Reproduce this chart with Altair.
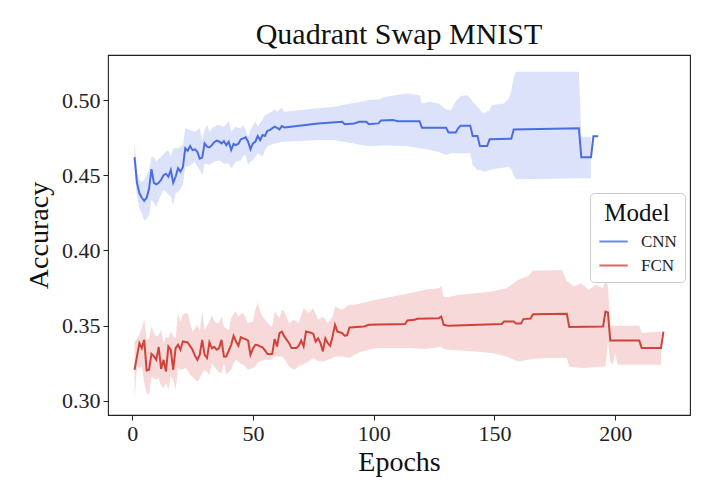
import altair as alt
import pandas as pd

# ---- CNN mean accuracy (epoch, value) ----
cnn_epoch = [1,2,3,4,5,6,7,8,9,10,11,12,13,14,15,16,17,18,19,20,21,22,23,24,25,26,27,28,29,30,
             31,32,33,34,35,36,37,38,39,40,41,42,43,44,45,46,47,48,49,50,51,52,53,54,55,56,57,58,59,60,
             61,62,63,64,77,87,88,92,94,97,98,102,103,108,110,119,120,130,131,134,135,136,140,141,143,
             144,147,148,157,158,185,186,190,191,193]
cnn_mean = [0.462,0.445,0.438,0.435,0.433,0.435,0.441,0.454,0.445,0.444,0.445,0.447,0.450,0.451,0.449,
            0.4535,0.445,0.449,0.4546,0.4524,0.4553,0.468,0.4663,0.4694,0.4667,0.4672,0.4656,0.461,0.4617,0.4712,
            0.469,0.4685,0.470,0.472,0.473,0.4725,0.4712,0.4727,0.470,0.4723,0.4668,0.4708,0.470,0.471,0.4739,
            0.4745,0.4752,0.4723,0.4672,0.4712,0.4723,0.4761,0.4734,0.4768,0.4761,0.4796,0.480,0.4812,0.4823,0.4815,
            0.4805,0.4827,0.4818,0.482,0.4845,0.4856,0.4840,0.4845,0.4856,0.4856,0.4840,0.4845,0.4865,0.4867,0.486,
            0.486,0.4816,0.4816,0.4785,0.4785,0.4812,0.4830,0.4830,0.4761,0.4761,0.4694,0.4694,0.4739,0.4743,0.4805,
            0.4812,0.4619,0.4619,0.4759,0.4759]

# ---- CNN 95% band (epoch, low, high) ----
cnn_band_epoch = [1,2,3,4,5,6,7,8,9,10,11,12,13,14,15,16,17,18,19,20,21,22,23,24,25,26,27,28,29,30,
                  31,32,33,34,35,36,37,38,39,40,41,42,43,44,45,46,47,48,49,50,51,52,53,54,55,56,57,59,60,62,
                  63,70,77,84,87,91,95,98,102,105,109,114,119,120,123,127,130,132,134,136,139,140,141,143,145,
                  146,148,149,154,156,157,158,159,185,186,190]
cnn_low = [0.450,0.436,0.428,0.4247,0.4198,0.421,0.4235,0.4336,0.4314,0.4291,0.4336,0.437,0.4402,0.439,0.437,
           0.4358,0.4302,0.438,0.4391,0.441,0.4435,0.4557,0.4557,0.4565,0.458,0.459,0.456,0.4535,0.4502,0.4579,
           0.4575,0.4568,0.458,0.459,0.4595,0.460,0.459,0.4579,0.4579,0.4579,0.4546,0.457,0.459,0.4595,0.460,
           0.463,0.4635,0.4568,0.459,0.460,0.4623,0.4646,0.4635,0.4623,0.4668,0.469,0.470,0.4712,0.4715,0.4723,
           0.4723,0.4728,0.4734,0.4734,0.4723,0.4715,0.470,0.4694,0.4697,0.470,0.4697,0.4694,0.468,0.4679,0.467,
           0.4655,0.4635,0.4646,0.4646,0.4646,0.4646,0.4646,0.4568,0.4535,0.4530,0.4524,0.4535,0.4540,0.4552,0.4557,
           0.4540,0.4500,0.4473,0.448,0.448,0.448]
cnn_high = [0.4734,0.452,0.447,0.4457,0.447,0.450,0.4535,0.462,0.4625,0.459,0.461,0.4623,0.464,0.4657,0.4668,
            0.4623,0.4679,0.4679,0.4679,0.469,0.470,0.4812,0.4806,0.480,0.4795,0.479,0.480,0.4812,0.4734,0.480,
            0.4834,0.479,0.481,0.4823,0.483,0.4834,0.4828,0.4823,0.484,0.486,0.479,0.481,0.4823,0.4815,0.4812,
            0.4834,0.480,0.4756,0.480,0.483,0.4856,0.4823,0.485,0.4867,0.490,0.4905,0.4915,0.4938,0.4922,0.4951,
            0.4922,0.4934,0.4945,0.4956,0.4967,0.4978,0.4989,0.500,0.5004,0.5022,0.5033,0.5044,0.5033,0.4978,0.4989,
            0.4978,0.4938,0.4934,0.4990,0.5027,0.5033,0.501,0.4989,0.4956,0.4915,0.4915,0.4934,0.4967,0.4978,0.5010,
            0.5060,0.5150,0.5188,0.5188,0.4756,0.4756]

# ---- FCN mean accuracy ----
fcn_epoch = [1,2,3,4,5,6,7,8,9,10,11,12,13,14,15,16,17,18,19,20,21,23,25,26,27,28,29,30,31,32,
             33,34,35,36,37,38,39,41,42,43,44,45,46,47,48,49,50,51,52,53,54,55,56,57,58,59,60,61,62,63,
             65,66,68,69,70,71,72,74,75,76,77,78,79,80,81,82,83,84,85,87,88,89,90,96,98,113,114,117,118,127,
             128,129,131,153,154,158,159,161,162,165,166,180,181,195,196,197,198,210,211,219,220]
fcn_mean = [0.3206,0.3295,0.3383,0.335,0.3405,0.3201,0.3206,0.3312,0.3295,0.3272,0.3357,0.3211,0.3272,0.3194,0.3361,
            0.3339,0.3206,0.335,0.3372,0.3339,0.3394,0.3388,0.3339,0.330,0.3272,0.3306,0.3405,0.3306,0.3284,0.3388,
            0.335,0.3357,0.3339,0.335,0.3405,0.3295,0.3295,0.3372,0.3432,0.3394,0.3366,0.3423,0.3415,0.3410,0.3400,
            0.3306,0.3346,0.3372,0.3370,0.3361,0.3355,0.3335,0.3312,0.331,0.3312,0.3410,0.3361,0.345,0.346,0.3428,
            0.3383,0.335,0.335,0.3366,0.340,0.3361,0.346,0.3452,0.3446,0.3394,0.3415,0.3383,0.3328,0.3415,0.3383,
            0.3366,0.3428,0.3505,0.346,0.345,0.3432,0.3435,0.3487,0.3494,0.3505,0.351,0.3534,0.3538,0.3545,0.3549,
            0.356,0.3505,0.3498,0.351,0.3527,0.3527,0.3513,0.3513,0.3543,0.3547,0.3576,0.3578,0.349,0.3494,0.3593,
            0.3587,0.340,0.340,0.335,0.335,0.346]

# ---- FCN 95% band ----
fcn_band_epoch = [1,2,3,4,5,6,7,8,9,10,11,12,13,14,15,16,17,18,19,20,21,22,23,24,25,26,27,28,29,30,
                  31,32,33,34,35,36,37,38,39,40,41,42,43,44,45,46,47,48,50,51,52,53,54,55,57,58,59,61,62,63,
                  65,67,69,71,73,75,77,79,81,83,84,87,90,92,95,101,108,115,121,127,128,129,131,135,142,149,155,157,160,164,
                  166,172,178,180,181,183,186,189,192,195,196,197,198,199,200,201,210,211,219]
fcn_low = [0.3018,0.3228,0.322,0.3228,0.312,0.3051,0.304,0.3162,0.315,0.314,0.3151,0.3100,0.3084,0.3117,0.3073,
           0.3162,0.3140,0.3073,0.3217,0.3206,0.3210,0.3217,0.3200,0.3173,0.3160,0.3140,0.3128,0.3150,0.3184,0.3206,
           0.3190,0.3173,0.3250,0.3230,0.3206,0.3190,0.3184,0.3250,0.3173,0.3190,0.3206,0.3250,0.3272,0.3260,0.3245,
           0.3239,0.3225,0.3206,0.3217,0.3230,0.3255,0.3261,0.3268,0.3272,0.3272,0.3285,0.3295,0.3295,0.3295,0.3280,
           0.3228,0.3206,0.3230,0.3245,0.3261,0.3284,0.3265,0.3261,0.3272,0.3285,0.3295,0.3295,0.3284,0.3306,0.3328,
           0.3350,0.3350,0.3350,0.3344,0.3355,0.3361,0.3345,0.3339,0.3335,0.3328,0.3317,0.3295,0.3280,0.3261,0.3273,
           0.3280,0.3284,0.3284,0.3284,0.3228,0.3222,0.3217,0.3220,0.3225,0.3228,0.3228,0.3394,0.3260,0.3240,0.3317,
           0.3240,0.3240,0.3240,0.3240]
fcn_high = [0.3394,0.341,0.344,0.3480,0.3549,0.3405,0.3416,0.3494,0.345,0.3428,0.3439,0.3470,0.3383,0.3428,0.3416,
            0.3461,0.3430,0.3416,0.3583,0.3527,0.3572,0.3580,0.3583,0.3516,0.3461,0.3480,0.3505,0.3461,0.3593,0.3472,
            0.3500,0.3527,0.3572,0.3530,0.3516,0.3520,0.3561,0.3494,0.3480,0.3472,0.3549,0.3580,0.3593,0.3561,0.3575,
            0.3583,0.3550,0.3516,0.3527,0.3600,0.3653,0.3593,0.3561,0.3540,0.3500,0.3494,0.3593,0.3549,0.3605,0.3593,
            0.3516,0.3539,0.3516,0.3616,0.3583,0.3616,0.3539,0.3561,0.3516,0.3561,0.3627,0.3605,0.3638,0.3638,0.3649,
            0.3671,0.3693,0.3715,0.3738,0.3749,0.3764,0.3690,0.3690,0.3704,0.3715,0.3726,0.3749,0.3770,0.3804,0.3830,
            0.3866,0.3866,0.3870,0.3793,0.3785,0.3760,0.3782,0.3738,0.3771,0.3749,0.3815,0.3760,0.3498,0.3498,0.3498,
            0.3498,0.3498,0.3450,0.3460]

models = ["CNN", "FCN"]
colors = ["#4a6ee0", "#d0433b"]
FONT = "Liberation Serif"

lines = pd.concat([
    pd.DataFrame({"Model": "CNN", "Epoch": cnn_epoch, "Accuracy": cnn_mean}),
    pd.DataFrame({"Model": "FCN", "Epoch": fcn_epoch, "Accuracy": fcn_mean}),
])
bands = pd.concat([
    pd.DataFrame({"Model": "CNN", "Epoch": cnn_band_epoch, "lo": cnn_low, "hi": cnn_high}),
    pd.DataFrame({"Model": "FCN", "Epoch": fcn_band_epoch, "lo": fcn_low, "hi": fcn_high}),
])

xscale = alt.Scale(domain=[-10, 231], nice=False, zero=False)
yscale = alt.Scale(domain=[0.2905, 0.530], nice=False, zero=False)
cscale = alt.Scale(domain=models, range=colors)
legend = alt.Legend(title="Model", orient="none", legendX=482, legendY=138)

band = alt.Chart(bands).mark_area(opacity=0.2, clip=True).encode(
    x=alt.X("Epoch:Q", scale=xscale),
    y=alt.Y("hi:Q", scale=yscale),
    y2="lo:Q",
    detail="Model:N",
    fill=alt.Fill("Model:N", scale=cscale, legend=None),
)

line = alt.Chart(lines).mark_line(strokeWidth=2, clip=True).encode(
    x=alt.X("Epoch:Q", scale=xscale,
            axis=alt.Axis(title="Epochs", values=[0, 50, 100, 150, 200], format="d")),
    y=alt.Y("Accuracy:Q", scale=yscale,
            axis=alt.Axis(title="Accuracy", values=[0.30, 0.35, 0.40, 0.45, 0.50], format=".2f")),
    stroke=alt.Stroke("Model:N", scale=cscale, legend=legend),
)

chart = alt.layer(band, line).resolve_legend(fill="independent", stroke="independent").properties(
    width=582, height=360,
    title=alt.TitleParams("Quadrant Swap MNIST", font=FONT, fontSize=30, fontWeight="normal",
                          color="#111", offset=5, anchor="middle"),
    autosize=alt.AutoSizeParams(type="none"),
    padding={"left": 100, "top": 47, "right": 22, "bottom": 81},
).configure_view(
    stroke="#222", strokeWidth=1.1
).configure_axis(
    labelFont=FONT, titleFont=FONT, labelFontSize=22, titleFontSize=28,
    titleFontWeight="normal", labelColor="#222", titleColor="#111",
    grid=False, domain=False, tickColor="#222", tickSize=5, labelPadding=3,
).configure_axisX(titlePadding=4).configure_axisY(titlePadding=8).configure_legend(
    titleFont=FONT, labelFont=FONT, titleFontSize=25, labelFontSize=17,
    titleFontWeight="normal", titleAnchor="middle", titleAlign="center",
    labelColor="#222", titleColor="#111",
    fillColor="white", strokeColor="#cccccc", cornerRadius=4, padding=8,
    symbolType="stroke", symbolStrokeWidth=2, symbolSize=800, symbolOpacity=0.8,
    labelOffset=12, rowPadding=0, titlePadding=0,
)

chart.save("out.html", embed_options={"renderer": "svg", "actions": False})
